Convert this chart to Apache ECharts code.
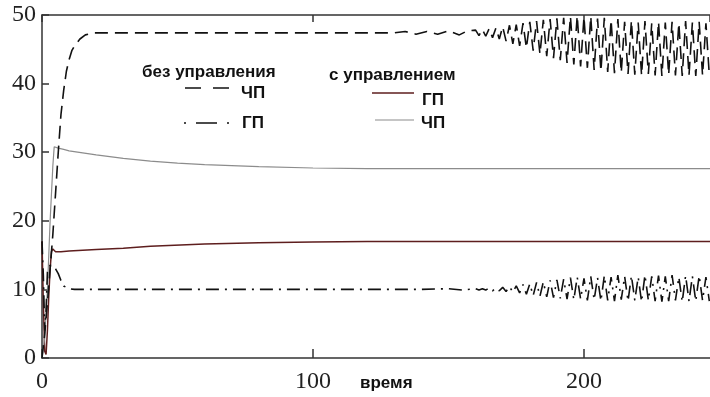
<!DOCTYPE html>
<html>
<head>
<meta charset="utf-8">
<script src="https://cdn.jsdelivr.net/npm/echarts@6/dist/echarts.min.js"></script>
<style>html,body{margin:0;padding:0;background:#fff;}#c{width:710px;height:397px;}</style>
</head>
<body>
<div id="c"></div>
<script>
// ---- data ----
const xTicks = [0, 100, 200];
const yTicks = [0, 10, 20, 30, 40, 50];

// shared oscillation times (t = 160 ... 246.25)
const tOsc = [160,161.25,162.5,163.75,165,166.25,167.5,168.75,170,171.25,172.5,173.75,175,176.25,177.5,178.75,180,
  181.25,182.5,183.75,185,186.25,187.5,188.75,190,191.25,192.5,193.75,195,196.25,197.5,198.75,200,
  201.25,202.5,203.75,205,206.25,207.5,208.75,210,211.25,212.5,213.75,215,216.25,217.5,218.75,220,
  221.25,222.5,223.75,225,226.25,227.5,228.75,230,231.25,232.5,233.75,235,236.25,237.5,238.75,240,
  241.25,242.5,243.75,245,246.25];

// без управления, ЧП (dashed)
const tChpFreeStart = [0,1,2,3,4,5,6,7,8,9,10,11,12,13,14,16,19,60,100,130,134,138,142,146,150,154,157];
const vChpFreeStart = [0,3.5,8,13,18,24,30,35.5,39,41.8,43.5,44.8,45.5,46,46.5,47.1,47.4,47.4,47.4,47.4,47.6,47.2,47.6,47.2,47.7,47.1,47.7];
const vChpFreeOsc = [47.8,47.0,47.9,46.9,48.0,46.7,48.1,46.5,48.3,
  46.2,48.5,45.8,48.6,45.5,48.8,45.2,49.0,
  44.8,49.1,44.3,49.3,44.0,49.4,43.7,49.5,
  43.4,49.6,43.0,49.8,42.8,49.9,42.5,49.7,
  42.3,49.8,42.0,49.5,41.8,49.6,41.7,49.3,
  41.5,49.4,41.6,49.0,41.4,49.2,41.3,48.9,
  41.2,49.1,41.4,48.8,41.2,49.0,41.1,48.9,
  41.3,49.0,41.2,48.8,41.1,49.1,41.2,48.9,
  41.1,49.0,41.2,48.8,41.2];

// без управления, ГП (dash-dot)
const tGpFreeStart = [0,0.5,1,1.5,2,3,4,5,6,7,8,10,12,15,60,100,140,150,155];
const vGpFreeStart = [17,12,4,7,12.5,13.5,13.5,13,12.3,11.3,10.5,10.1,10,10,10,10,10,10.1,9.9];
const vGpFreeOsc = [10.1,9.9,10.1,9.9,10.2,9.8,10.2,9.8,10.3,
  9.7,10.4,9.6,10.5,9.5,10.7,9.3,10.8,
  9.1,11.0,9.0,11.1,8.9,11.3,8.8,11.4,
  8.7,11.5,8.6,11.7,8.5,11.8,8.6,11.6,
  8.4,11.9,8.5,11.7,8.3,12.0,8.4,11.8,
  8.3,12.1,8.5,11.9,8.3,12.0,8.4,11.8,
  8.2,12.1,8.4,11.9,8.3,12.0,8.2,11.9,
  8.3,12.1,8.4,11.8,8.2,12.0,8.3,11.9,
  8.3,12.0,8.4,11.8,8.3];

// с управлением, ГП (dark red)
const tGpCtrl = [0,0.5,1,1.5,2,2.5,3,3.5,4,5,7,10,20,30,40,60,80,100,120,150,200,246.5];
const vGpCtrl = [17,8,1,0.5,4,9,13,15.5,15.9,15.5,15.5,15.6,15.8,16.0,16.3,16.6,16.8,16.9,17.0,17.0,17.0,17.0];

// с управлением, ЧП (gray)
const tChpCtrl = [0,1,2,3,4,4.5,5,6,8,10,15,20,30,40,50,60,80,100,120,246.5];
const vChpCtrl = [0,3,10,20,28,30.8,30.9,30.6,30.4,30.2,29.9,29.6,29.1,28.7,28.4,28.2,27.9,27.7,27.6,27.6];

function pairs(ts, vs){ return ts.map((t,i)=>[t, vs[i]]); }
const chpFree = pairs(tChpFreeStart, vChpFreeStart).concat(pairs(tOsc, vChpFreeOsc));
const gpFree = pairs(tGpFreeStart, vGpFreeStart).concat(pairs(tOsc, vGpFreeOsc));

const chart = echarts.init(document.getElementById('c'), null, {renderer:'canvas'});
const serif = '"Liberation Serif", "Times New Roman", serif';
const sans = '"Liberation Sans", Arial, sans-serif';
const axisCol = '#333';
const lf = 'bold 17px ' + sans;

chart.setOption({
  animation:false,
  backgroundColor:'#fff',
  grid:{left:42, right:0, top:15, bottom:39, containLabel:false},
  xAxis:[{
    type:'value', min:0, max:246.5, interval:100, position:'bottom',
    axisLine:{show:true, onZero:false, lineStyle:{color:axisCol, width:1.5}},
    axisTick:{show:true, inside:true, length:9, lineStyle:{color:axisCol, width:1.5}},
    axisLabel:{show:true, showMaxLabel:false, fontFamily:serif, fontSize:24, color:'#222', margin:12,
      formatter:v=> xTicks.includes(v) ? String(v) : ''},
    splitLine:{show:false}
  },{
    type:'value', min:0, max:246.5, interval:100, position:'top',
    axisLine:{show:true, onZero:false, lineStyle:{color:axisCol, width:1.5}},
    axisTick:{show:true, inside:true, length:7, lineStyle:{color:axisCol, width:1.5}},
    axisLabel:{show:false}, splitLine:{show:false}
  }],
  yAxis:{
    type:'value', min:0, max:50, interval:10,
    axisLine:{show:true, onZero:false, lineStyle:{color:axisCol, width:1.5}},
    axisTick:{show:true, inside:true, length:7, lineStyle:{color:axisCol, width:1.5}},
    axisLabel:{fontFamily:serif, fontSize:24, color:'#222', margin:6,
      formatter:v=> yTicks.includes(v) ? String(v) : ''},
    splitLine:{show:false}
  },
  series:[
    {type:'line', data:pairs(tGpCtrl, vGpCtrl), showSymbol:false, lineStyle:{color:'#5e1e1e', width:1.5}, z:3},
    {type:'line', data:pairs(tChpCtrl, vChpCtrl), showSymbol:false, lineStyle:{color:'#8c8c8c', width:1.2}, z:3},
    {type:'line', data:chpFree, showSymbol:false, lineStyle:{color:'#111', width:1.6, type:[13,7]}, z:4},
    {type:'line', data:gpFree, showSymbol:false, lineStyle:{color:'#111', width:1.6, type:[13,6,2,6]}, z:4}
  ],
  graphic:[
    {type:'text', x:142, y:72, style:{text:'без управления', font:lf, fill:'#111', verticalAlign:'middle'}},
    {type:'line', shape:{x1:185, y1:88, x2:231, y2:88}, style:{stroke:'#111', lineWidth:1.5, lineDash:[16,12]}},
    {type:'text', x:241, y:93, style:{text:'ЧП', font:lf, fill:'#111', verticalAlign:'middle'}},
    {type:'line', shape:{x1:184, y1:123, x2:232, y2:123}, style:{stroke:'#111', lineWidth:1.5, lineDash:[2,10,21,10,2,10]}},
    {type:'text', x:242, y:123, style:{text:'ГП', font:lf, fill:'#111', verticalAlign:'middle'}},
    {type:'text', x:329, y:75, style:{text:'с управлением', font:lf, fill:'#111', verticalAlign:'middle'}},
    {type:'line', shape:{x1:372, y1:93, x2:414, y2:93}, style:{stroke:'#5e1e1e', lineWidth:1.5}},
    {type:'text', x:422, y:100, style:{text:'ГП', font:lf, fill:'#111', verticalAlign:'middle'}},
    {type:'line', shape:{x1:375, y1:120, x2:414, y2:120}, style:{stroke:'#8c8c8c', lineWidth:1.2}},
    {type:'text', x:421, y:123, style:{text:'ЧП', font:lf, fill:'#111', verticalAlign:'middle'}},
    {type:'text', x:360, y:383, style:{text:'время', font:lf, fill:'#111', verticalAlign:'middle'}}
  ]
});
</script>
</body>
</html>
